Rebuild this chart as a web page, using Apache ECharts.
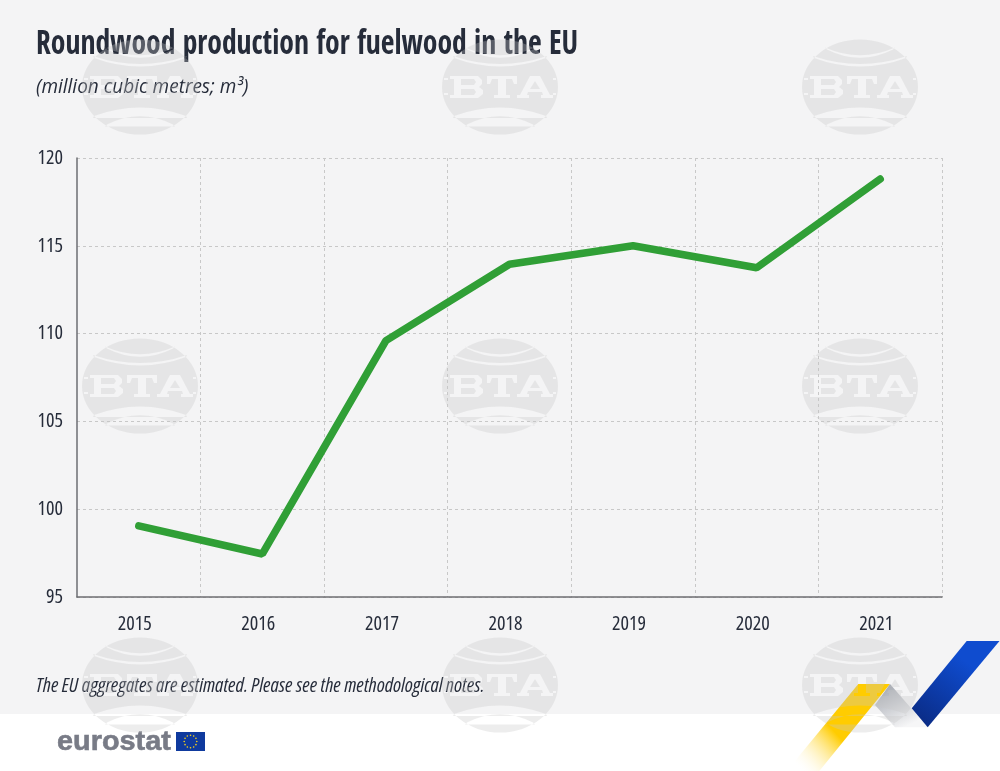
<!DOCTYPE html>
<html>
<head>
<meta charset="utf-8">
<title>Roundwood production for fuelwood in the EU</title>
<script src="https://cdn.jsdelivr.net/npm/echarts@6/dist/echarts.min.js"></script>
<style>
html, body { margin: 0; padding: 0; background: #f4f4f5; }
#chart { width: 1000px; height: 771px; }
</style>
</head>
<body>
<div id="chart"></div>
<script>
var years = ['2015', '2016', '2017', '2018', '2019', '2020', '2021'];
var fuelwood = [99.05, 97.45, 109.6, 113.95, 115.0, 113.75, 118.8];

var titleText = 'Roundwood production for fuelwood in the EU';
var unitText = '(million cubic metres; m³)';
var noteText = 'The EU aggregates are estimated. Please see the methodological notes.';

var fontName = '"Open Sans"';
var textColor = '#262c3a';

// agency stamp: a disc with the arcs and letters cut out (reversed winding)
function cutBox(x, y, w, h) {
    return 'M' + x + ' ' + y + 'L' + x + ' ' + (y + h) + 'L' + (x + w) + ' ' + (y + h) + 'L' + (x + w) + ' ' + y + 'Z';
}
var stampPath = 'M-58 0A58 47.5 0 1 1 58 0A58 47.5 0 1 1 -58 0Z'
    + 'M-35 -39.5L-33 -37.5Q0 -21 33 -37.5L35 -39.5Q0 -24 -35 -39.5Z'
    + 'M-47 -31L-46 -29Q0 -12 46 -29L47 -31Q0 -15 -47 -31Z'
    + 'M-47 31L47 31L46 29Q0 12 -46 29Z'
    + 'M-35 39.5L35 39.5L33 37.5Q0 21 -33 37.5Z'
    // B
    + 'M-50 -11L-50 -8L-46 -8L-46 8L-50 8L-50 11L-22 11L-17 7L-17 3L-21 0L-18 -3L-18 -7L-22 -11Z'
    // T
    + 'M-13 -11L-13 -3L-10 -3L-8 -8L-2 -8L-2 8L-6 8L-6 11L10 11L10 8L6 8L6 -8L12 -8L14 -3L17 -3L17 -11Z'
    // A
    + 'M30 -11L20 8L17 8L17 11L29 11L29 8L27 8L28 5L42 5L43 8L41 8L41 11L53 11L53 8L50 8L40 -11Z'
    // edge stripes
    + cutBox(-56, -9, 4, 2) + cutBox(-56, 6, 4, 2) + cutBox(53, -9, 3, 2) + cutBox(53, 6, 3, 2)
    // holes of the letters go back to grey
    + 'M-39 -8L-26 -8L-24 -5L-26 -2L-39 -2Z M-39 2L-26 2L-24 5L-26 8L-39 8Z M35 -6L40 2L30 2Z';

echarts.graphic.registerShape('btaStamp', echarts.graphic.extendPath(stampPath, {}));

var stampColumns = [140, 500, 860];
var stampRows = [87, 386, 685];

var graphics = [
    { type: 'rect', z: 1, shape: { x: 0, y: 714, width: 1000, height: 57 }, style: { fill: '#ffffff' } },
    {
        type: 'text', z: 10, x: 36, y: 28,
        style: { text: titleText, fill: textColor, font: 'bold 34px "Open Sans Condensed"' },
        scaleX: 0.87
    },
    {
        type: 'text', z: 10, x: 36, y: 77, scaleX: 0.95,
        style: { text: unitText, fill: textColor, font: 'italic 20px ' + fontName }
    },
    {
        type: 'text', z: 10, x: 36, y: 676,
        style: { text: noteText, fill: textColor, font: 'italic condensed 20px ' + fontName }
    },
    {
        type: 'text', z: 10, x: 57, y: 728, scaleX: 1.03,
        style: { text: 'eurostat', fill: '#787b86', stroke: '#787b86', lineWidth: 0.6, font: 'bold 28px "Liberation Sans", sans-serif' }
    },
    { type: 'rect', z: 10, shape: { x: 176, y: 732, width: 29, height: 19 }, style: { fill: '#0f3a9e' } },
    // ribbon
    {
        type: 'polygon', z: 20,
        shape: { points: [[858.3, 684], [890, 684], [819.3, 771], [786.7, 771]] },
        style: { fill: new echarts.graphic.LinearGradient(0.75, 0.35, 0.15, 1, [
            { offset: 0, color: '#ffcc00' }, { offset: 0.4, color: '#ffcc00' }, { offset: 1, color: 'rgba(255,255,255,0.1)' }
        ]) }
    },
    {
        type: 'polygon', z: 20,
        shape: { points: [[890, 684], [927.7, 727.3], [895, 727.3], [875, 705]] },
        style: { fill: new echarts.graphic.LinearGradient(0.2, 0.1, 0.55, 1, [
            { offset: 0, color: '#a9adb5' }, { offset: 1, color: '#f6f6f7' }
        ]) }
    },
    {
        type: 'polygon', z: 20,
        shape: { points: [[966.7, 641], [999.5, 641], [927.7, 727.3], [911.7, 708.3]] },
        style: { fill: new echarts.graphic.LinearGradient(0.7, 0.3, 0.2, 1, [
            { offset: 0, color: '#0f4ccf' }, { offset: 1, color: '#0a2c87' }
        ]) }
    }
];

// twelve stars of the flag
for (var s = 0; s < 12; s++) {
    var angle = s * Math.PI / 6;
    graphics.push({
        type: 'circle', z: 11,
        shape: { cx: 190.5 + 6.3 * Math.cos(angle), cy: 741.5 + 6.3 * Math.sin(angle), r: 0.8 },
        style: { fill: '#ffd617' }
    });
}

stampRows.forEach(function (cy) {
    stampColumns.forEach(function (cx) {
        graphics.push({
            type: 'btaStamp', z: 100, x: cx, y: cy, silent: true,
            style: { fill: 'rgba(200,200,200,0.32)' }
        });
    });
});

var myChart = echarts.init(document.getElementById('chart'), null, { renderer: 'canvas' });

var option = {
    backgroundColor: '#f4f4f5',
    animation: false,
    grid: { left: 77, right: 58, top: 158, bottom: 174 },
    xAxis: {
        type: 'category',
        data: years,
        boundaryGap: true,
        axisLine: { lineStyle: { color: '#6d6e72', width: 1.5 } },
        axisTick: {
            length: 33,
            interval: function (index) { return index > 0; },
            lineStyle: { color: '#c8c8c8', type: [3, 3], width: 1 }
        },
        axisLabel: {
            color: textColor, fontFamily: fontName, fontStyle: 'condensed', fontSize: 20,
            margin: 17, padding: [0, 8, 0, 0]
        },
        splitLine: {
            show: true,
            interval: function (index) { return index > 0; },
            lineStyle: { color: '#c8c8c8', type: [3, 3], width: 1 }
        }
    },
    yAxis: {
        type: 'value',
        min: 95,
        max: 120,
        interval: 5,
        axisLine: { show: true, lineStyle: { color: '#6d6e72', width: 1.5 } },
        axisTick: { show: false },
        axisLabel: {
            color: textColor, fontFamily: fontName, fontStyle: 'condensed', fontSize: 20,
            margin: 14, padding: [3, 0, 0, 0]
        },
        splitLine: { show: true, lineStyle: { color: '#c8c8c8', type: [3, 3], width: 1 } }
    },
    series: [
        {
            name: 'Fuelwood',
            type: 'line',
            data: fuelwood,
            smooth: false,
            symbol: 'none',
            lineStyle: { color: '#309f36', width: 7.5, cap: 'round', join: 'bevel' }
        }
    ],
    graphic: { elements: graphics }
};

myChart.setOption(option);
</script>
</body>
</html>
